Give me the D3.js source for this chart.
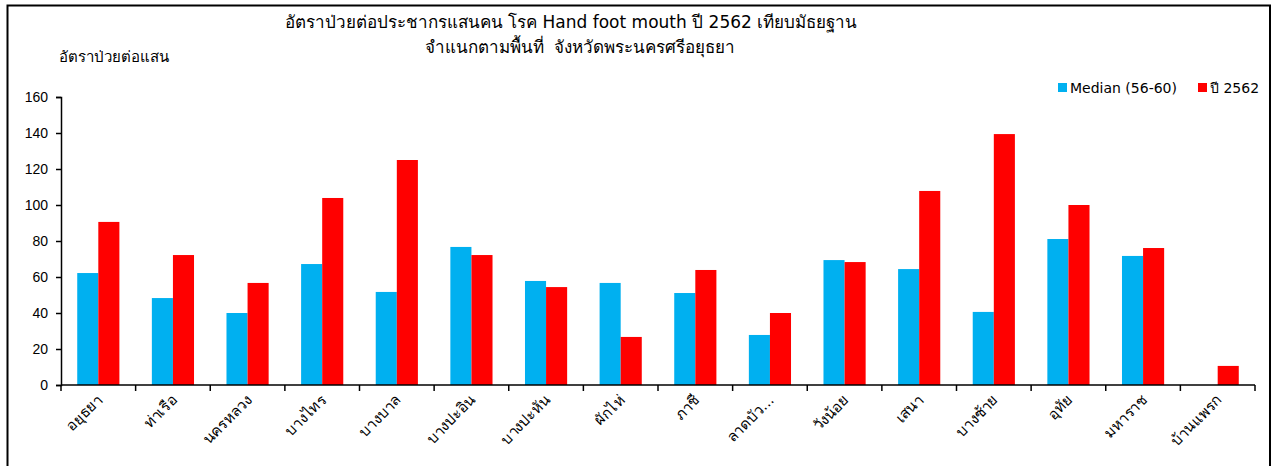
<!DOCTYPE html>
<html>
<head>
<meta charset="utf-8">
<script src="https://cdn.jsdelivr.net/npm/d3@7"></script>
<style>
  body { margin: 0; background: #fff; }
  svg { font-family: Tahoma, "DejaVu Sans", "Noto Sans", sans-serif; }
  svg text { white-space: pre; }
  .axis path, .axis line { stroke: #000; stroke-width: 1.5; }
  .axis text { fill: #000; font-size: 14px; }
</style>
</head>
<body>
<svg id="chart" width="1273" height="466"></svg>
<script>
const categories = ['อยุธยา', 'ท่าเรือ', 'นครหลวง', 'บางไทร', 'บางบาล', 'บางปะอิน', 'บางปะหัน', 'ผักไห่',
  'ภาชี', 'ลาดบัว...', 'วังน้อย', 'เสนา', 'บางซ้าย', 'อุทัย', 'มหาราช', 'บ้านแพรก'];
const seriesNames = ['Median (56-60)', 'ปี 2562'];
const median = [62.2, 48.3, 40, 67.2, 51.7, 76.7, 57.8, 56.7, 51.1, 27.8, 69.4, 64.4, 40.6, 81.1, 71.7, 0];
const y2562 = [90.6, 72.2, 56.7, 103.9, 125, 72.2, 54.4, 26.7, 63.9, 40, 68.3, 107.8, 139.4, 100, 76.1, 10.6];
const yTicks = [0, 20, 40, 60, 80, 100, 120, 140, 160];
const colors = ['#00b0f0', '#ff0000'];

const svg = d3.select('#chart');
const plot = { left: 61, right: 1255, top: 97, bottom: 385 };

// frame
svg.append('rect')
  .attr('x', 7.5).attr('y', 5.5).attr('width', 1262.5).attr('height', 470)
  .attr('fill', 'none').attr('stroke', '#000').attr('stroke-width', 2);

const x0 = d3.scaleBand().domain(categories).range([plot.left, plot.right]).padding(0);
const x1 = d3.scaleBand().domain(seriesNames).range([0, x0.bandwidth()])
  .paddingInner(0).paddingOuter(0.77);
const y = d3.scaleLinear().domain([0, 160]).range([plot.bottom, plot.top]);

const rows = categories.map((c, i) => ({ cat: c, vals: [median[i], y2562[i]] }));

const groups = svg.selectAll('.grp')
  .data(rows)
  .enter().append('g')
  .attr('class', 'grp')
  .attr('transform', d => 'translate(' + x0(d.cat) + ',0)');

groups.selectAll('rect')
  .data(d => d.vals.map((v, k) => ({ s: seriesNames[k], v: v, k: k })))
  .enter().append('rect')
  .attr('x', d => x1(d.s))
  .attr('y', d => y(d.v))
  .attr('width', x1.bandwidth())
  .attr('height', d => plot.bottom - y(d.v))
  .attr('fill', d => colors[d.k]);

// y axis
svg.append('g')
  .attr('class', 'axis')
  .attr('transform', 'translate(' + plot.left + ',0)')
  .call(d3.axisLeft(y).tickValues(yTicks).tickSize(5).tickSizeOuter(5).tickPadding(8))
  .selectAll('text').style('font-size', '14px');

// x axis: boundary ticks
const xa = svg.append('g').attr('class', 'axis');
xa.append('line').attr('x1', plot.left).attr('x2', plot.right).attr('y1', plot.bottom).attr('y2', plot.bottom);
const bounds = categories.map(c => x0(c)).concat([plot.right]);
xa.selectAll('.tk').data(bounds).enter().append('line')
  .attr('x1', d => d).attr('x2', d => d)
  .attr('y1', plot.bottom).attr('y2', plot.bottom + 6);

xa.selectAll('.lbl').data(categories).enter().append('text')
  .attr('text-anchor', 'end')
  .attr('transform', d => 'translate(' + (x0(d) + x0.bandwidth() / 2 + 5) + ',' + (plot.bottom + 16) + ') rotate(-45)')
  .style('font-size', '15px')
  .text(d => d);

// titles
svg.append('text').attr('x', 571).attr('y', 28).attr('text-anchor', 'middle')
  .style('font-size', '17px')
  .text('อัตราป่วยต่อประชากรแสนคน โรค Hand foot mouth ปี 2562 เทียบมัธยฐาน');
svg.append('text').attr('x', 580).attr('y', 53).attr('text-anchor', 'middle')
  .style('font-size', '17px')
  .text('จำแนกตามพื้นที่  จังหวัดพระนครศรีอยุธยา');
svg.append('text').attr('x', 59).attr('y', 62)
  .style('font-size', '15px')
  .text('อัตราป่วยต่อแสน');

// legend
const legendX = [1058, 1198];
const lg = svg.selectAll('.lg').data(seriesNames).enter().append('g')
  .attr('transform', (d, i) => 'translate(' + legendX[i] + ',88)');
lg.append('rect').attr('x', 0).attr('y', -5).attr('width', 9).attr('height', 9)
  .attr('fill', (d, i) => colors[i]);
lg.append('text').attr('x', 12).attr('y', 5).style('font-size', '14px').text(d => d);
</script>
</body>
</html>
